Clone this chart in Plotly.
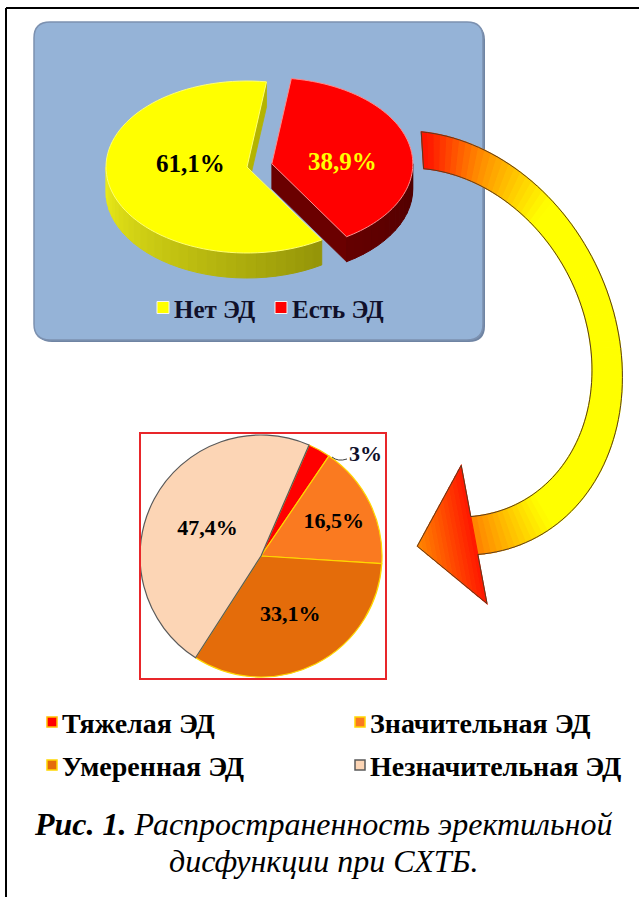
import numpy as np
import plotly.graph_objects as go

W, H = 639, 897

# ---------------- data ----------------
top_labels = ['Нет ЭД', 'Есть ЭД']
top_values = [61.1, 38.9]
top_colors = ['#FFFF00', '#FF0000']

sev_labels = ['Тяжелая ЭД', 'Значительная ЭД', 'Умеренная ЭД', 'Незначительная ЭД']
sev_values = [3.0, 16.5, 33.1, 47.4]
sev_colors = ['#FF0000', '#FA7A20', '#E46C0A', '#FCD5B5']
sev_line_colors = ['#FFC000', '#FFD700', '#FFD700', '#595959']

caption_line1 = '<b>Рис. 1.</b> Распространенность эректильной'
caption_line2 = 'дисфункции при СХТБ.'


def fmt(v):
    return f"{v:g}".replace('.', ',') + '%'


SERIF = 'Liberation Serif'
shapes = []
annotations = []


def poly(pts, fill, line=None, lw=0.8, layer='above'):
    d = 'M ' + ' L '.join(f'{x:.2f},{y:.2f}' for x, y in pts) + ' Z'
    shapes.append(dict(type='path', path=d, xref='x', yref='y', layer=layer,
                       fillcolor=fill, line=dict(color=line or fill, width=lw)))


def rgb(c):
    return f'rgb({int(round(c[0]))},{int(round(c[1]))},{int(round(c[2]))})'


def mix(a, b, t):
    return [a[i] + (b[i] - a[i]) * t for i in range(3)]


# ---------------- page frame ----------------
shapes.append(dict(type='line', xref='x', yref='y', x0=6, y0=8, x1=639, y1=8,
                   line=dict(color='black', width=2)))
shapes.append(dict(type='line', xref='x', yref='y', x0=6, y0=8, x1=6, y1=897,
                   line=dict(color='black', width=2)))

# ---------------- blue panel ----------------
def rrect(x0, y0, x1, y1, r):
    return (f'M {x0+r},{y0} L {x1-r},{y0} Q {x1},{y0} {x1},{y0+r} L {x1},{y1-r} '
            f'Q {x1},{y1} {x1-r},{y1} L {x0+r},{y1} Q {x0},{y1} {x0},{y1-r} '
            f'L {x0},{y0+r} Q {x0},{y0} {x0+r},{y0} Z')

shapes.append(dict(type='path', path=rrect(36, 24, 485, 342, 16), xref='x', yref='y',
                   fillcolor='#6F84A3', line=dict(width=0), layer='above'))
shapes.append(dict(type='path', path=rrect(34, 22, 483, 340, 16), xref='x', yref='y',
                   fillcolor='#95B3D7', line=dict(color='#7C91B0', width=1.5), layer='above'))

# ---------------- 3D pie (top) ----------------
cx0, cy0 = 247, 167
rx, ry, dep = 141, 86, 25
start_angle = 148
explode = [0.0, 0.18]
side_dark = [(105, 105, 0), (78, 0, 0)]
side_light = [(238, 238, 25), (150, 0, 0)]
face_col = ['#B4B400', '#6A0000']
edge_col = ['#FFFF70', '#FF8C8C']


def P(cx, cy, th, dz=0.0):
    t = np.radians(th)
    return (cx + rx * np.sin(t), cy - ry * np.cos(t) + dz)


ang = start_angle
for i, v in enumerate(top_values):
    a0 = ang
    a1 = ang + v * 3.6
    ang = a1
    mid = (a0 + a1) / 2
    cx = cx0 + explode[i] * rx * np.sin(np.radians(mid))
    cy = cy0 - explode[i] * ry * np.cos(np.radians(mid))
    if np.sin(np.radians(a0)) < 0:
        poly([(cx, cy), P(cx, cy, a0), P(cx, cy, a0, dep), (cx, cy + dep)], face_col[i])
    if np.sin(np.radians(a1)) > 0:
        poly([(cx, cy), P(cx, cy, a1), P(cx, cy, a1, dep), (cx, cy + dep)], face_col[i])
    for k in range(-1, 3):
        lo = max(a0, 90 + 360 * k)
        hi = min(a1, 270 + 360 * k)
        if hi <= lo:
            continue
        n = max(2, int((hi - lo) / 4))
        ts = np.linspace(lo, hi, n + 1)
        for j in range(n):
            tm = (ts[j] + ts[j + 1]) / 2 - 360 * k
            f = (tm - 90) / 180
            c = rgb(mix(side_dark[i], side_light[i], f))
            poly([P(cx, cy, ts[j]), P(cx, cy, ts[j + 1]), P(cx, cy, ts[j + 1], dep),
                  P(cx, cy, ts[j], dep)], c, lw=1)
    ths = np.linspace(a0, a1, 80)
    poly([(cx, cy)] + [P(cx, cy, t) for t in ths], top_colors[i], line=edge_col[i], lw=1)

top_label_pos = [(190, 163), (342, 161)]
top_label_col = ['#000000', '#FFFF00']
for i, v in enumerate(top_values):
    annotations.append(dict(x=top_label_pos[i][0], y=top_label_pos[i][1], xref='x', yref='y',
                            text=f'<b>{fmt(v)}</b>', showarrow=False,
                            font=dict(family=SERIF, size=25, color=top_label_col[i])))

top_leg_x = [163, 281]
for i, lab in enumerate(top_labels):
    x = top_leg_x[i]
    shapes.append(dict(type='rect', xref='x', yref='y', x0=x - 6, y0=301.5, x1=x + 6, y1=313.5,
                       fillcolor=top_colors[i], line=dict(color='#F4F4F4', width=1), layer='above'))
    annotations.append(dict(x=x + 9, y=309, xref='x', yref='y', xanchor='left', yanchor='middle',
                            text=f'<b>{lab}</b>', showarrow=False,
                            font=dict(family=SERIF, size=25, color='#10102A')))

# ---------------- curved arrow ----------------
def outer(th):
    t = np.radians(th)
    return (435 + 185 * np.sin(t) - 30 * np.cos(t), 343 - 212 * np.cos(t))


def inner(th):
    t = np.radians(th)
    return (435 + 155 * np.sin(t) - 25 * np.cos(t), 342.5 - 174.5 * np.cos(t))


RED = (255, 22, 0)
ORANGE = (255, 140, 0)
YELLOW = (255, 255, 0)


def grad(x):
    t = min(max((x - 428) / 115, 0), 1)
    if t < 0.45:
        return mix(RED, ORANGE, t / 0.45)
    return mix(ORANGE, YELLOW, (t - 0.45) / 0.55)


A0, A1 = 5, 176
ths = np.linspace(A0, A1, 88)
for j in range(len(ths) - 1):
    p1, p2 = outer(ths[j]), outer(ths[j + 1])
    q1, q2 = inner(ths[j]), inner(ths[j + 1])
    xm = (p1[0] + p2[0] + q1[0] + q2[0]) / 4
    poly([p1, p2, q2, q1], rgb(grad(xm)), lw=1.2)

oi, ii = np.array(outer(A1)), np.array(inner(A1))
bdir = (oi - ii) / np.linalg.norm(oi - ii)
A = ii - 52 * bdir
B = oi + 50 * bdir
tang = np.array([-bdir[1], bdir[0]])
if tang[0] > 0:
    tang = -tang
T = (ii + oi) / 2 + 58 * tang
nst = 14
for k in range(nst):
    f0, f1 = k / nst, (k + 1) / nst
    pa0, pa1 = A + f0 * (T - A), A + f1 * (T - A)
    pb0, pb1 = B + f0 * (T - B), B + f1 * (T - B)
    c = rgb(mix(RED, (255, 135, 0), (f0 + f1) / 2))
    poly([tuple(pa0), tuple(pb0), tuple(pb1), tuple(pa1)], c, lw=1.2)

outline = [outer(t) for t in ths] + [tuple(B), tuple(T), tuple(A)] + [inner(t) for t in ths[::-1]]
d = 'M ' + ' L '.join(f'{x:.2f},{y:.2f}' for x, y in outline) + ' Z'
shapes.append(dict(type='path', path=d, xref='x', yref='y', layer='above',
                   fillcolor='rgba(0,0,0,0)', line=dict(color='#5A3A1E', width=1)))

# ---------------- bottom pie ----------------
pcx, pcy, pr = 261, 556, 121
dom_x = [(pcx - pr) / W, (pcx + pr) / W]
dom_y = [(H - pcy - pr) / H, (H - pcy + pr) / H]

pie_text = ['' if v < 5 else f'<b>{fmt(v)}</b>' for v in sev_values]

fig = go.Figure()
fig.add_trace(go.Scatter(x=[None], y=[None], showlegend=False, hoverinfo='skip'))
fig.add_trace(go.Pie(
    labels=sev_labels, values=sev_values, sort=False, direction='clockwise',
    rotation=23.4, domain=dict(x=dom_x, y=dom_y),
    marker=dict(colors=sev_colors, line=dict(color=sev_line_colors, width=1.2)),
    text=pie_text, textinfo='text', textposition='inside',
    insidetextorientation='horizontal',
    textfont=dict(family=SERIF, size=22, color='black'),
    showlegend=False, hoverinfo='label+value'))

for i, v in enumerate(sev_values):
    if v < 5:
        annotations.append(dict(x=347, y=453, xref='x', yref='y', xanchor='left', yanchor='middle',
                                text=f'<b>{fmt(v)}</b>', showarrow=False,
                                font=dict(family=SERIF, size=22, color='#10102A')))
        shapes.append(dict(type='path', path='M 332,457 Q 338,462 347,459', xref='x', yref='y',
                           line=dict(color='#404040', width=1), layer='above'))

shapes.append(dict(type='rect', xref='x', yref='y', x0=140, y0=433, x1=386, y1=679,
                   fillcolor='rgba(0,0,0,0)', line=dict(color='#E8262A', width=2), layer='above'))

leg_pos = [(52, 722), (360, 722), (52, 765), (360, 765)]
for i, lab in enumerate(sev_labels):
    x, y = leg_pos[i]
    shapes.append(dict(type='rect', xref='x', yref='y', x0=x - 5, y0=y - 5, x1=x + 5, y1=y + 5,
                       fillcolor=sev_colors[i], line=dict(color=sev_line_colors[i], width=1.5),
                       layer='above'))
    annotations.append(dict(x=x + 8, y=y + 1, xref='x', yref='y', xanchor='left', yanchor='middle',
                            text=f'<b>{lab}</b>', showarrow=False,
                            font=dict(family=SERIF, size=28, color='black')))

annotations.append(dict(x=323, y=824, xref='x', yref='y', xanchor='center', yanchor='middle',
                        text=f'<i>{caption_line1}</i>', showarrow=False,
                        font=dict(family=SERIF, size=32, color='black')))
annotations.append(dict(x=323, y=861, xref='x', yref='y', xanchor='center', yanchor='middle',
                        text=f'<i>{caption_line2}</i>', showarrow=False,
                        font=dict(family=SERIF, size=32, color='black')))

fig.update_layout(
    width=W, height=H, margin=dict(l=0, r=0, t=0, b=0),
    paper_bgcolor='white', plot_bgcolor='white',
    xaxis=dict(range=[0, W], visible=False, domain=[0, 1], fixedrange=True),
    yaxis=dict(range=[H, 0], visible=False, domain=[0, 1], fixedrange=True),
    shapes=shapes, annotations=annotations, showlegend=False,
)

fig.write_html('out.html')
